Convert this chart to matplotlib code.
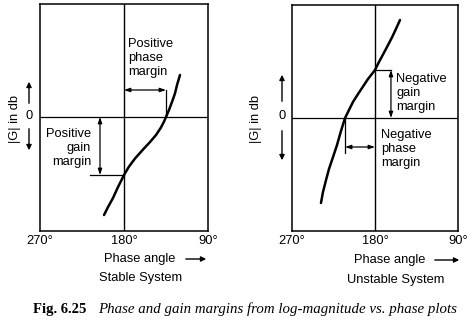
import matplotlib
matplotlib.use("Agg")
import matplotlib.pyplot as plt

# Log-magnitude vs. phase loci (phase in degrees, |G| in dB)
stable_phase = [201.4, 197.1, 191.8, 186.4, 180.0, 174.6, 168.2, 159.6, 152.1, 145.7,
                140.4, 137.1, 135.0, 131.8, 128.6, 125.4, 123.2, 120.0]
stable_gain = [-9.8, -9.0, -8.1, -7.0, -5.8, -4.95, -4.15, -3.25, -2.5, -1.8,
               -1.05, -0.45, 0.0, 0.7, 1.5, 2.35, 3.2, 4.2]

unstable_phase = [238.6, 236.4, 233.1, 229.9, 225.5, 221.2, 216.9, 212.5, 208.2, 203.9,
                  198.4, 193.0, 187.6, 180.0, 175.7, 171.3, 167.0, 161.6, 157.3, 152.9]
unstable_gain = [-8.5, -7.4, -6.2, -5.1, -3.9, -2.7, -1.3, 0.0, 0.8, 1.6,
                 2.4, 3.15, 3.9, 4.8, 5.6, 6.35, 7.1, 8.05, 8.9, 9.8]

# Margins read from the loci
stable_gm = 5.8        # dB below 0 at -180 deg
stable_pm = 45.0       # deg
unstable_gm = -4.8     # dB
unstable_pm = -32.5    # deg

phase_ticks = [270, 180, 90]
phase_tick_labels = ["270°", "180°", "90°"]

W, H = 469, 324
fig = plt.figure(figsize=(W / 100, H / 100), dpi=100)
fig.patch.set_facecolor("white")

SANS = ["Liberation Sans", "DejaVu Sans"]
SERIF = ["Liberation Serif", "DejaVu Serif"]
FS = 9.3


def fx(x):
    return x / W


def fy(y):
    return 1 - y / H


def make_axes(left, right, top, bottom, ylim):
    ax = fig.add_axes([fx(left), fy(bottom), (right - left) / W, (bottom - top) / H])
    ax.set_xlim(270, 90)
    ax.set_ylim(*ylim)
    ax.set_xticks(phase_ticks)
    ax.set_xticklabels(phase_tick_labels, family=SANS, fontsize=FS)
    ax.tick_params(axis="x", length=0, pad=3)
    ax.set_yticks([])
    for s in ax.spines.values():
        s.set_linewidth(1.1)
    ax.axhline(0, color="black", lw=0.9)
    ax.axvline(180, color="black", lw=1.0)
    return ax


def dbl_arrow(ax, p0, p1):
    ax.annotate("", xy=p1, xytext=p0,
                arrowprops=dict(arrowstyle="<|-|>,head_length=0.35,head_width=0.12",
                                color="black", lw=0.9, shrinkA=0, shrinkB=0))


def fig_arrow(x0, y0, x1, y1):
    fig.add_artist(matplotlib.patches.FancyArrowPatch(
        (fx(x0), fy(y0)), (fx(x1), fy(y1)), transform=fig.transFigure,
        arrowstyle="-|>,head_length=3,head_width=1.5", color="black", lw=1.0))


# ---------------- Stable system ----------------
axL = make_axes(40, 208, 4, 231, (-11.4, 11.3))
axL.plot(stable_phase, stable_gain, color="black", lw=1.8,
         solid_capstyle="round", solid_joinstyle="round")

pc_L = 180 - stable_pm
# gain margin
axL.plot([216.4, 180], [-stable_gm, -stable_gm], color="black", lw=0.9)
dbl_arrow(axL, (205.7, 0), (205.7, -stable_gm))
axL.text(215.4, -3.1, "Positive\ngain\nmargin", ha="right", va="center",
         multialignment="right", family=SANS, fontsize=FS, linespacing=1.2)
# phase margin
axL.plot([pc_L, pc_L], [0, 2.7], color="black", lw=0.9)
dbl_arrow(axL, (180, 2.7), (pc_L, 2.7))
axL.text(175.7, 5.9, "Positive\nphase\nmargin", ha="left", va="center",
         family=SANS, fontsize=FS, linespacing=1.25)

# ---------------- Unstable system ----------------
axR = make_axes(292, 458, 5, 231, (-11.3, 11.3))
axR.plot(unstable_phase, unstable_gain, color="black", lw=1.8,
         solid_capstyle="round", solid_joinstyle="round")

pc_R = 180 - unstable_pm
# gain margin
axR.plot([180, 162.7], [-unstable_gm, -unstable_gm], color="black", lw=0.9)
dbl_arrow(axR, (162.7, -unstable_gm), (162.7, 0))
axR.text(157.2, 2.5, "Negative\ngain\nmargin", ha="left", va="center",
         family=SANS, fontsize=FS, linespacing=1.2)
# phase margin
axR.plot([pc_R, pc_R], [0, -3.5], color="black", lw=0.9)
dbl_arrow(axR, (pc_R, -2.9), (180, -2.9))
axR.text(173.5, -3.1, "Negative\nphase\nmargin", ha="left", va="center",
         family=SANS, fontsize=FS, linespacing=1.25)

# ---------------- Axis captions ----------------
for xl, x0, ya, yb, y_up0, y_up1, y_dn0, y_dn1 in [
        (15, 29, 116, 119, 106, 79, 126, 153),
        (256, 282, 116, 119, 104, 72, 128, 163)]:
    fig.text(fx(xl), fy(yb), "|G| in db", rotation=90, ha="center", va="center",
             family=SANS, fontsize=FS)
    fig.text(fx(x0), fy(ya), "0", ha="center", va="center", family=SANS, fontsize=FS)
    fig_arrow(x0, y_up0, x0, y_up1)
    fig_arrow(x0, y_dn0, x0, y_dn1)

fig.text(fx(104), fy(259), "Phase angle", ha="left", va="center", family=SANS, fontsize=FS)
fig_arrow(183, 259, 209, 259)
fig.text(fx(141), fy(278), "Stable System", ha="center", va="center", family=SANS, fontsize=FS)

fig.text(fx(354), fy(260), "Phase angle", ha="left", va="center", family=SANS, fontsize=FS)
fig_arrow(432, 260, 462, 260)
fig.text(fx(396), fy(280), "Unstable System", ha="center", va="center", family=SANS, fontsize=FS)

fig.text(fx(33), fy(309), "Fig. 6.25", ha="left", va="center", family=SERIF,
         fontweight="bold", fontsize=10.5)
fig.text(fx(98), fy(309), "Phase and gain margins from log-magnitude vs. phase plots",
         ha="left", va="center", family=SERIF, style="italic", fontsize=10.75)

fig.savefig("out.png", dpi=100, facecolor="white")
